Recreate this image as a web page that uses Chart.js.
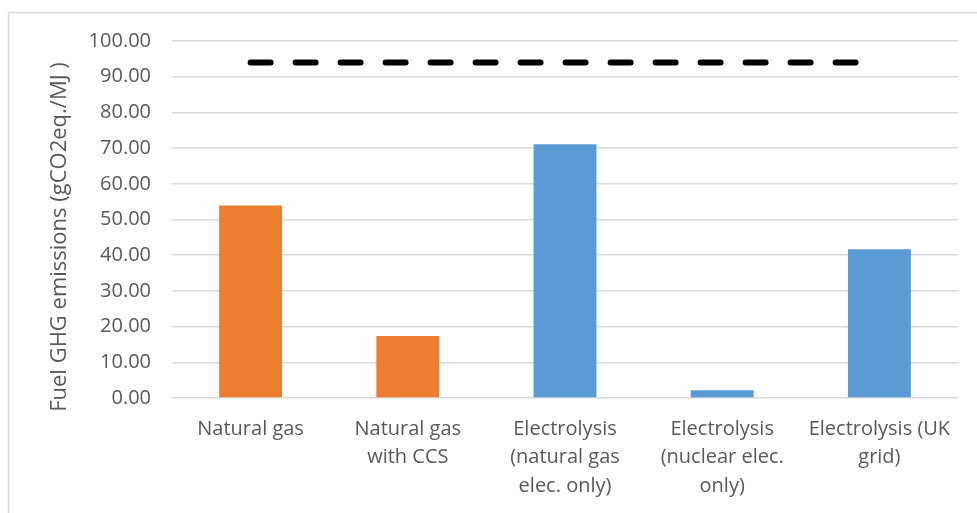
<!DOCTYPE html>
<html>
<head>
<meta charset="utf-8">
<script src="https://cdn.jsdelivr.net/npm/chart.js@4/dist/chart.umd.min.js"></script>
<style>
  html, body { margin: 0; padding: 0; background: #ffffff; }
  #wrap { width: 977px; height: 513px; position: relative; }
</style>
</head>
<body>
<div id="wrap"><canvas id="chart" width="977" height="513"></canvas></div>
<script>
// Hydrogen production routes and their fuel-cycle emissions
const categories = [
  ['Natural gas'],
  ['Natural gas', 'with CCS'],
  ['Electrolysis', '(natural gas', 'elec. only)'],
  ['Electrolysis', '(nuclear elec.', 'only)'],
  ['Electrolysis (UK', 'grid)']
];
const emissions = [53.9, 17.4, 71.1, 2.2, 41.7];
const barColors = ['#ED7D31', '#ED7D31', '#5B9BD5', '#5B9BD5', '#5B9BD5'];
// Fossil fuel comparator level
const comparator = [94.0, 94.0, 94.0, 94.0, 94.0];
const yTicks = { min: 0, max: 100, step: 10 };
const yTitle = 'Fuel GHG emissions (gCO2eq./MJ )';

const FONT = '"Open Sans", "Noto Sans", sans-serif';
const TEXT = '#595959';
const GRID = '#d9d9d9';

// Light frame along the top and left edges, plus the rotated axis title
const decor = {
  id: 'decor',
  beforeDraw(chart) {
    const ctx = chart.ctx;
    ctx.save();
    ctx.strokeStyle = GRID;
    ctx.lineWidth = 1.5;
    ctx.beginPath();
    ctx.moveTo(8.5, chart.height);
    ctx.lineTo(8.5, 12.5);
    ctx.lineTo(chart.width, 12.5);
    ctx.stroke();
    ctx.restore();
  },
  afterDraw(chart) {
    const ctx = chart.ctx;
    ctx.save();
    ctx.translate(60, 237);
    ctx.rotate(-Math.PI / 2);
    ctx.fillStyle = TEXT;
    ctx.font = '22px ' + FONT;
    ctx.textAlign = 'center';
    ctx.textBaseline = 'middle';
    ctx.fillText(yTitle, 0, 0);
    ctx.restore();
  }
};

new Chart(document.getElementById('chart'), {
  data: {
    labels: categories,
    datasets: [
      {
        type: 'line',
        data: comparator,
        borderColor: '#000000',
        borderWidth: 6,
        borderDash: [20, 25],
        borderCapStyle: 'round',
        pointRadius: 0,
        fill: false,
        order: 0
      },
      {
        type: 'bar',
        data: emissions,
        backgroundColor: barColors,
        borderWidth: 0,
        barPercentage: 0.4,
        categoryPercentage: 1.0,
        order: 1
      }
    ]
  },
  options: {
    responsive: false,
    animation: false,
    layout: { padding: { left: 0, top: 41, right: 19, bottom: 0 } },
    plugins: {
      legend: { display: false },
      tooltip: { enabled: false }
    },
    scales: {
      x: {
        grid: { display: false, drawTicks: false },
        border: { display: false },
        ticks: {
          color: TEXT,
          font: { family: FONT, size: 20, lineHeight: 1.425 },
          padding: 17,
          maxRotation: 0,
          autoSkip: false
        },
        afterFit(scale) { scale.height = 513 - 398; }
      },
      y: {
        min: yTicks.min,
        max: yTicks.max,
        grid: { color: GRID, lineWidth: 1.5, drawTicks: false },
        border: { display: false },
        ticks: {
          stepSize: yTicks.step,
          color: TEXT,
          font: { family: FONT, size: 20 },
          padding: 21,
          callback: v => Number(v).toFixed(2)
        },
        afterFit(scale) { scale.width = 172; }
      }
    }
  },
  plugins: [decor]
});
</script>
</body>
</html>
